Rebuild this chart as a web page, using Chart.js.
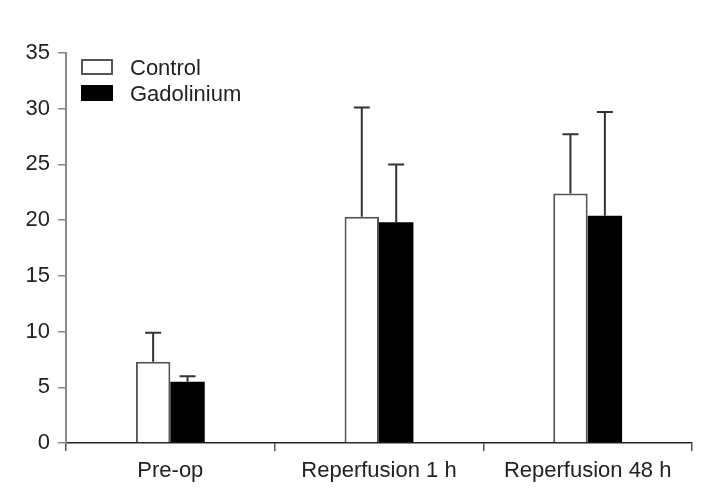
<!DOCTYPE html>
<html>
<head>
<meta charset="utf-8">
<script src="https://cdn.jsdelivr.net/npm/chart.js@4.4.0/dist/chart.umd.min.js"></script>
<style>
  html, body { margin: 0; padding: 0; background: #fff; }
  #wrap { width: 703px; height: 489px; }
</style>
</head>
<body>
<div id="wrap"><canvas id="chart"></canvas></div>
<script>
// données
const categories = ['Pre-op', 'Reperfusion 1 h', 'Reperfusion 48 h'];
const controlValues = [7.3, 20.3, 22.4];
const controlErrors = [2.6, 9.8, 5.3];
const gadoliniumValues = [5.5, 19.8, 20.4];
const gadoliniumErrors = [0.5, 5.2, 9.3];
const yTicks = [0, 5, 10, 15, 20, 25, 30, 35];

const fontFamily = '"Liberation Sans", Arial, sans-serif';

// -----------------------------
// Barres d'erreur (vers le haut seulement)
// -----------------------------
const errorBars = {
    id: 'errorBars',
    afterDatasetsDraw(chart) {
        const ctx = chart.ctx;
        const yScale = chart.scales.y;
        chart.data.datasets.forEach((ds, i) => {
            const meta = chart.getDatasetMeta(i);
            meta.data.forEach((bar, j) => {
                const top = yScale.getPixelForValue(ds.data[j] + ds.errors[j]);
                ctx.save();
                ctx.strokeStyle = '#333';
                ctx.lineWidth = 2;
                ctx.beginPath();
                ctx.moveTo(bar.x, bar.y);
                ctx.lineTo(bar.x, top);
                ctx.moveTo(bar.x - 8, top);
                ctx.lineTo(bar.x + 8, top);
                ctx.stroke();
                ctx.restore();
            });
        });
    }
};

// -----------------------------
// Légende dessinée à la main
// -----------------------------
const boxLegend = {
    id: 'boxLegend',
    afterDraw(chart) {
        const ctx = chart.ctx;
        ctx.save();
        ctx.font = '22px ' + fontFamily;
        ctx.textBaseline = 'middle';
        chart.data.datasets.forEach((ds, i) => {
            const y = 59 + i * 26;
            ctx.fillStyle = ds.backgroundColor;
            ctx.fillRect(81, y, 32, 16);
            ctx.strokeStyle = ds.borderColor;
            ctx.lineWidth = 2;
            ctx.strokeRect(82, y + 1, 30, 14);
            ctx.fillStyle = '#222';
            ctx.fillText(ds.label, 130, y + 10);
        });
        ctx.restore();
    }
};

new Chart(document.getElementById('chart').getContext('2d'), {
    type: 'bar',
    data: {
        labels: categories,
        datasets: [{
            label: 'Control',
            data: controlValues,
            errors: controlErrors,
            backgroundColor: '#ffffff',
            borderColor: '#555555',
            borderWidth: 2
        }, {
            label: 'Gadolinium',
            data: gadoliniumValues,
            errors: gadoliniumErrors,
            backgroundColor: '#000000',
            borderColor: '#000000',
            borderWidth: 0
        }]
    },
    options: {
        responsive: true,
        maintainAspectRatio: false,
        animation: false,
        categoryPercentage: 0.33,
        barPercentage: 1,
        layout: { padding: { top: 53, right: 11, left: 0, bottom: 0 } },
        plugins: {
            legend: { display: false },
            tooltip: { enabled: false }
        },
        scales: {
            x: {
                afterFit(scale) { scale.height = 46; },
                grid: { drawOnChartArea: false, drawTicks: true, tickLength: 8, color: '#555', lineWidth: 1.5, offset: true },
                border: { color: '#222', width: 1.5 },
                ticks: { color: '#222', font: { family: fontFamily, size: 22 }, padding: 7, maxRotation: 0 }
            },
            y: {
                min: 0,
                max: 35,
                afterFit(scale) { scale.width = 66; },
                afterBuildTicks(scale) { scale.ticks = yTicks.map(v => ({ value: v })); },
                grid: { drawOnChartArea: false, drawTicks: true, tickLength: 8, color: '#888', lineWidth: 1.5 },
                border: { color: '#888', width: 2 },
                ticks: { color: '#222', font: { family: fontFamily, size: 22 }, padding: 8 }
            }
        }
    },
    plugins: [errorBars, boxLegend]
});
</script>
</body>
</html>
